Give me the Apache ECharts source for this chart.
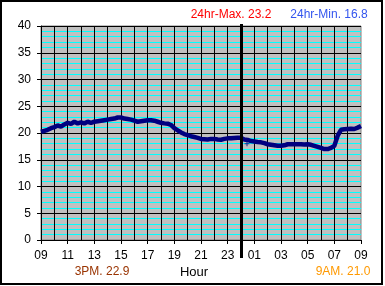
<!DOCTYPE html>
<html><head><meta charset="utf-8">
<script src="https://cdn.jsdelivr.net/npm/echarts@6/dist/echarts.min.js"></script>
<style>html,body{margin:0;padding:0;background:#fff}#c{width:385px;height:286px}</style>
</head><body><div id="c"></div>
<script>
// hours since 09:00 (0..24), 15-minute steps
const hoursOffset = [];
for (let i = 0; i <= 96; i++) hoursOffset.push(i / 4);
const temps = [
20.2,20.4,20.6,20.9, 21.1,21.4,21.2,21.6, 21.9,21.7,22.1,21.8, 22.0,21.8,22.1,21.9,
22.1,22.2,22.3,22.4, 22.5,22.6,22.7,22.9, 22.9,22.7,22.6,22.5, 22.3,22.1,22.2,22.3,
22.4,22.4,22.3,22.1, 21.9,21.8,21.75,21.5, 20.9,20.5,20.1,19.8, 19.6,19.4,19.25,19.1,
18.9,18.85,18.8,18.9, 18.9,18.8,18.75,18.9, 19.0,19.0,19.05,19.1, 19.1,18.8,18.7,18.5,
18.4,18.3,18.25,18.1, 17.9,17.8,17.7,17.6, 17.6,17.7,17.9,17.9, 17.9,17.9,17.9,17.85,
17.9,17.8,17.6,17.4, 17.2,17.0,17.0,17.2, 17.6,19.5,20.6,20.7, 20.75,20.8,20.75,21.0,
21.3
];
const outlier = [[15.45, 18.0]];
const startHour = 9;
const yTicks = {min: 0, max: 40, interval: 5};
const texts = {
  max: '24hr-Max. 23.2', min: '24hr-Min. 16.8',
  maxTime: '3PM. 22.9', xName: 'Hour', last: '9AM. 21.0'
};
const midnightOffset = 15;

const chart = echarts.init(document.getElementById('c'), null, {renderer: 'canvas'});
const font = 'Liberation Sans, Arial, sans-serif';
chart.setOption({
  animation: false,
  backgroundColor: '#fff',
  grid: {left: 41, top: 26, width: 320, height: 214, show: true,
         backgroundColor: '#C0C0C0', borderColor: '#808080', borderWidth: 1},
  xAxis: {
    type: 'value', min: 0, max: 24, interval: 2,
    axisLine: {show: true, onZero: false, lineStyle: {color: '#000', width: 1}},
    axisTick: {show: true, length: 4, lineStyle: {color: '#000'}},
    axisLabel: {color: '#000', fontSize: 12, fontFamily: font, margin: 10,
      formatter: v => String((v + startHour) % 24).padStart(2, '0')},
    splitLine: {show: true, showMaxLine: false, lineStyle: {color: '#000', width: 1}},
    minorTick: {show: false, splitNumber: 2},
    minorSplitLine: {show: true, lineStyle: {color: '#000', width: 1}}
  },
  yAxis: {
    type: 'value', min: yTicks.min, max: yTicks.max, interval: yTicks.interval,
    axisLine: {show: true, lineStyle: {color: '#000', width: 1}},
    axisTick: {show: true, length: 4, lineStyle: {color: '#000'}},
    axisLabel: {color: '#000', fontSize: 12, fontFamily: font, margin: 10},
    splitLine: {show: true, lineStyle: {color: '#000', width: 1}},
    minorTick: {show: false, splitNumber: 5},
    minorSplitLine: {show: true, lineStyle: {color: '#00FFFF', width: 1}}
  },
  series: [{
    type: 'line', data: hoursOffset.map((h, i) => [h, temps[i]]),
    showSymbol: false, symbol: 'none', smooth: false,
    lineStyle: {color: '#000080', width: 4.5}, z: 5
  }, {
    type: 'scatter', data: outlier,
    symbol: 'path://M0,2H5V3H0Z M2,0H3V5H2Z', symbolSize: 5,
    itemStyle: {color: '#000080'}, z: 5
  }]
});

const mx = chart.convertToPixel({xAxisIndex: 0}, midnightOffset);
const t = (txt, x, y, color, size) => ({type: 'text', x: x, y: y, z: 20,
  style: {text: txt, fill: color, font: (size || 12) + 'px ' + font, align: 'center', verticalAlign: 'middle'}});
chart.setOption({
  graphic: [
    {type: 'line', z: 10, shape: {x1: Math.round(mx) + 0.5, y1: 24, x2: Math.round(mx) + 0.5, y2: 258},
     style: {stroke: '#000', lineWidth: 3}},
    {type: 'rect', z: 10, shape: {x: 1, y: 1, width: 381, height: 283},
     style: {fill: 'none', stroke: '#000', lineWidth: 2}},
    t(texts.max, 231, 15, '#FF0000'),
    t(texts.min, 329, 15, '#3355EE'),
    t(texts.maxTime, 102, 272, '#993300'),
    t(texts.xName, 194, 272, '#000', 13),
    t(texts.last, 343, 272, '#FF9900')
  ]
});
</script></body></html>
